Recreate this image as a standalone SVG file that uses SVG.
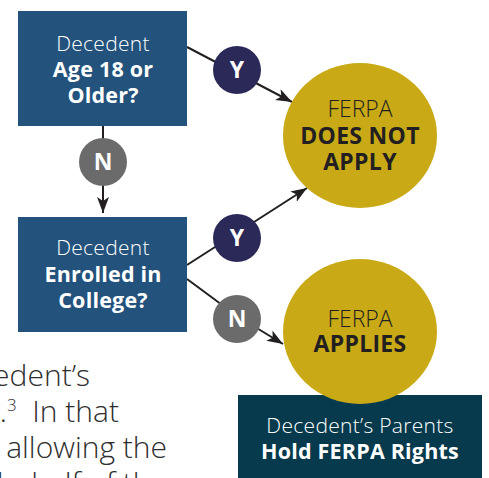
<svg xmlns="http://www.w3.org/2000/svg" width="489" height="478" viewBox="0 0 489 478">
  <style>
    .q { fill: #23527c; }
    .yes { fill: #2b2957; }
    .no { fill: #6b6b6b; }
    .out { fill: #c9aa16; }
    .who { fill: #073a4d; }
    .edge { fill: none; stroke: #231f20; stroke-width: 2; }
    text { font-family: "Open Sans", "Liberation Sans", sans-serif; text-anchor: middle; }
    .lt { font-weight: 300; font-size: 21px; letter-spacing: 0.3px; }
    .bd { font-weight: 700; font-size: 21.5px; letter-spacing: 0.2px; }
    .big-lt { font-weight: 300; font-size: 23px; }
    .big-bd { font-weight: 700; font-size: 23px; letter-spacing: 0.3px; }
    .w { fill: #ffffff; }
    .k { fill: #231f20; }
    .yn { font-weight: 700; font-size: 23px; fill: #ffffff; }
    .body { font-family: "Open Sans", "Liberation Sans", sans-serif; font-weight: 300; font-size: 30px; fill: #2e2e2e; text-anchor: end; }
    .sup { font-size: 17px; }
  </style>
  <defs>
    <marker id="arrow" markerUnits="userSpaceOnUse" markerWidth="16" markerHeight="12" refX="16" refY="6" orient="auto">
      <path d="M0,0 L16,6 L0,12 L4,6 Z" fill="#231f20"/>
    </marker>
  </defs>

  <!-- paragraph text running behind the chart -->
  <g id="paragraph">
    <text class="body" x="90" y="386">edent’s</text>
    <text class="body" x="119" y="422">s.<tspan class="sup" dy="-11">3</tspan><tspan dy="11">&#160;&#160;In that</tspan></text>
    <text class="body" x="167" y="458">allowing the</text>
    <text class="body" x="167" y="494">behalf of the</text>
  </g>

  <!-- connectors -->
  <g id="connectors">
    <line class="edge" x1="187" y1="47" x2="292" y2="102" marker-end="url(#arrow)"/>
    <line class="edge" x1="103" y1="126" x2="103" y2="213" marker-end="url(#arrow)"/>
    <line class="edge" x1="187" y1="265" x2="307" y2="188" marker-end="url(#arrow)"/>
    <polyline class="edge" points="187,279 237,316 283,344" marker-end="url(#arrow)"/>
  </g>

  <g id="q-age">
    <rect class="q" x="18" y="11" width="169" height="115"/>
    <text class="lt w" x="103" y="51">Decedent</text>
    <text class="bd w" x="103" y="77">Age 18 or</text>
    <text class="bd w" x="103" y="103">Older?</text>
  </g>

  <g id="q-college">
    <rect class="q" x="18" y="217" width="169" height="115"/>
    <text class="lt w" x="103" y="255">Decedent</text>
    <text class="bd w" x="103" y="282">Enrolled in</text>
    <text class="bd w" x="103" y="308">College?</text>
  </g>

  <g id="yes-age">
    <circle class="yes" cx="237" cy="70" r="24"/>
    <text class="yn" x="237" y="78">Y</text>
  </g>

  <g id="no-age">
    <circle class="no" cx="103" cy="162" r="24"/>
    <text class="yn" x="103" y="170">N</text>
  </g>

  <g id="yes-college">
    <circle class="yes" cx="237" cy="238" r="24"/>
    <text class="yn" x="237" y="246">Y</text>
  </g>

  <g id="no-college">
    <circle class="no" cx="237" cy="319" r="24"/>
    <text class="yn" x="237" y="327">N</text>
  </g>

  <g id="parents">
    <rect class="who" x="238" y="395" width="244" height="83"/>
    <text class="lt w" x="360" y="433">Decedent’s Parents</text>
    <text class="bd w" x="360" y="459">Hold FERPA Rights</text>
  </g>

  <g id="not-apply">
    <ellipse class="out" cx="360" cy="135.5" rx="77" ry="72.5"/>
    <text class="big-lt k" x="360" y="117">FERPA</text>
    <text class="big-bd k" x="360" y="144">DOES NOT</text>
    <text class="big-bd k" x="360" y="170">APPLY</text>
  </g>

  <g id="applies">
    <ellipse class="out" cx="360" cy="331.5" rx="77" ry="72.5"/>
    <text class="big-lt k" x="360" y="327">FERPA</text>
    <text class="big-bd k" x="360" y="352">APPLIES</text>
  </g>
</svg>
